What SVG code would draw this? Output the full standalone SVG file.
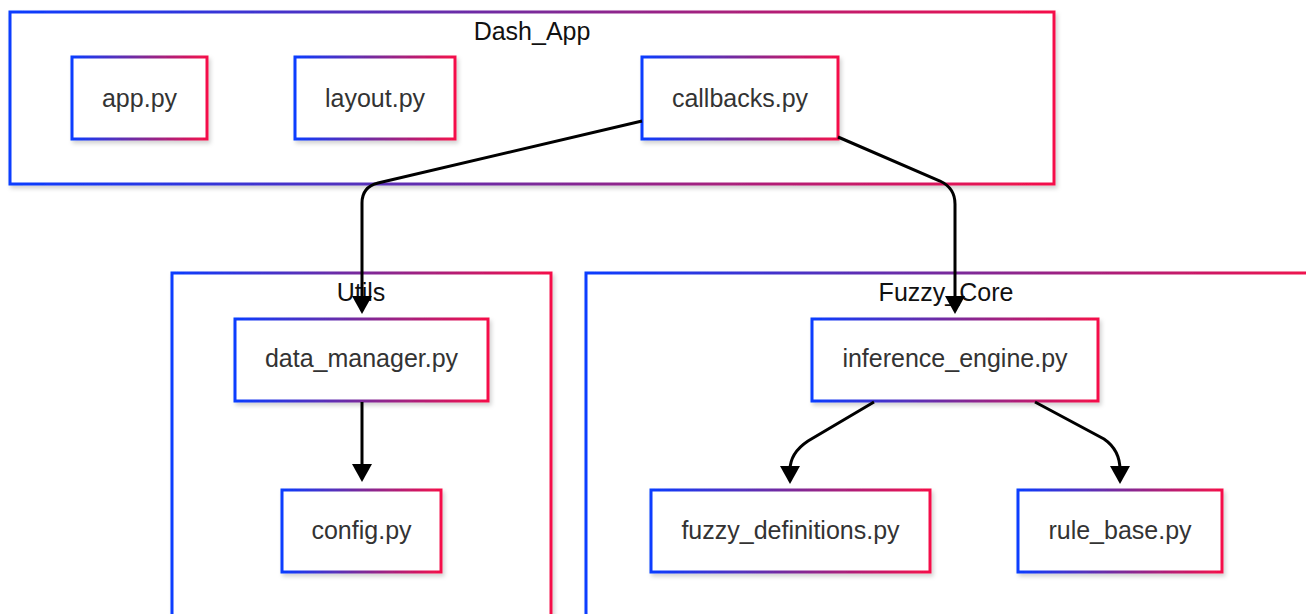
<svg xmlns="http://www.w3.org/2000/svg" width="1306" height="614" viewBox="0 0 1306 614">
<defs>
<linearGradient id="g" x1="0" y1="0" x2="1" y2="0">
<stop offset="0" stop-color="#0a3cff"/>
<stop offset="0.5" stop-color="#7a2a9a"/>
<stop offset="1" stop-color="#f5104a"/>
</linearGradient>
<filter id="sh" x="-10%" y="-10%" width="120%" height="130%">
<feDropShadow dx="2" dy="3" stdDeviation="2" flood-color="#000" flood-opacity="0.18"/>
</filter>
<marker id="arr" viewBox="0 0 18 20" markerUnits="userSpaceOnUse" markerWidth="18" markerHeight="20" refX="9" refY="10" orient="auto">
<path d="M0,0 L18,10 L0,20 z" fill="#000"/>
</marker>
<style>
.cl{fill:#fff;stroke:url(#g);stroke-width:3;filter:url(#sh)}
.nd{fill:#fff;stroke:url(#g);stroke-width:3;filter:url(#sh)}
.ct{font-family:"Liberation Sans",Arial,sans-serif;font-size:25px;fill:#111;text-anchor:middle}
.nt{font-family:"Liberation Sans",Arial,sans-serif;font-size:25px;fill:#333;text-anchor:middle}
.e{fill:none;stroke:#000;stroke-width:3;marker-end:url(#arr)}
</style>
</defs>
<rect width="1306" height="614" fill="#fff"/>
<g id="cluster-Dash_App">
<rect class="cl" x="10" y="12" width="1044" height="172"/>
<text class="ct" x="532" y="40">Dash_App</text>
</g>
<g id="cluster-Utils">
<rect class="cl" x="172" y="273" width="379" height="360"/>
<text class="ct" x="361" y="301">Utils</text>
</g>
<g id="cluster-Fuzzy_Core">
<rect class="cl" x="586" y="273" width="740" height="360"/>
<text class="ct" x="946" y="301">Fuzzy_Core</text>
</g>
<g id="node-app">
<rect class="nd" x="72" y="57" width="135" height="82"/>
<text class="nt" x="139.5" y="107">app.py</text>
</g>
<g id="node-layout">
<rect class="nd" x="295" y="57" width="160" height="82"/>
<text class="nt" x="375" y="107">layout.py</text>
</g>
<g id="node-callbacks">
<rect class="nd" x="642" y="57" width="196" height="82"/>
<text class="nt" x="740" y="107">callbacks.py</text>
</g>
<g id="node-data_manager">
<rect class="nd" x="235" y="319" width="253" height="82"/>
<text class="nt" x="361.5" y="367">data_manager.py</text>
</g>
<g id="node-config">
<rect class="nd" x="282" y="490" width="159" height="82"/>
<text class="nt" x="361.5" y="539">config.py</text>
</g>
<g id="node-inference_engine">
<rect class="nd" x="812" y="319" width="286" height="82"/>
<text class="nt" x="955" y="367">inference_engine.py</text>
</g>
<g id="node-fuzzy_definitions">
<rect class="nd" x="651" y="490" width="279" height="82"/>
<text class="nt" x="790.5" y="539">fuzzy_definitions.py</text>
</g>
<g id="node-rule_base">
<rect class="nd" x="1018" y="490" width="204" height="82"/>
<text class="nt" x="1120" y="539">rule_base.py</text>
</g>
<g id="edges">
<path class="e" d="M642,121 L378,183 Q362,187 362,203 L362,305"/>
<path class="e" d="M838,137 L940,181 Q955,188 955,204 L955,305"/>
<path class="e" d="M362,402 L362,473"/>
<path class="e" d="M874,402 L808,441 Q790,453 790,470 L790,475"/>
<path class="e" d="M1035,402 L1104,439 Q1120,450 1120,470 L1120,475"/>
</g>
</svg>
